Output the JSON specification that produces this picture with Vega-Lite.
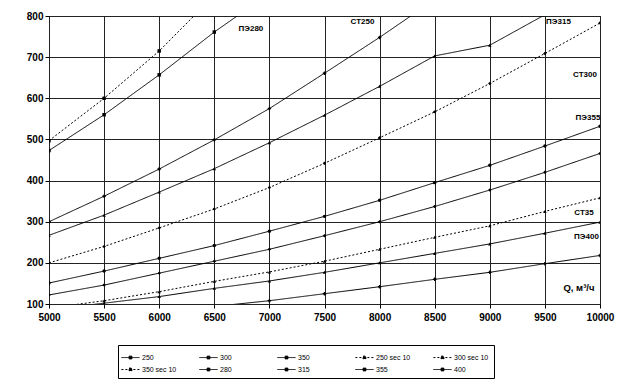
{
  "$schema": "https://vega.github.io/schema/vega-lite/v6.json",
  "width": 551,
  "height": 288,
  "autosize": {"type": "none"},
  "padding": {"left": 49, "top": 16, "right": 38, "bottom": 87},
  "background": "white",
  "config": {
    "font": "Liberation Sans",
    "view": {"stroke": "#000", "strokeWidth": 1},
    "axis": {
      "grid": true,
      "gridColor": "#222",
      "gridWidth": 1,
      "gridOpacity": 1,
      "domain": false,
      "tickColor": "#000",
      "tickSize": 4,
      "labelColor": "#000",
      "labelFontSize": 10,
      "labelFontWeight": "bold",
      "title": null,
      "labelFlush": false
    }
  },
  "resolve": {"scale": {"shape": "independent"}, "legend": {"shape": "independent", "strokeDash": "independent"}},
  "datasets": {
    "curves": [
      {"series": "250 sec 10", "Q": 5000, "P": 497},
      {"series": "250 sec 10", "Q": 5500, "P": 600},
      {"series": "250 sec 10", "Q": 6000, "P": 715},
      {"series": "250 sec 10", "Q": 6500, "P": 850},
      {"series": "280", "Q": 5000, "P": 473},
      {"series": "280", "Q": 5500, "P": 560},
      {"series": "280", "Q": 6000, "P": 657},
      {"series": "280", "Q": 6500, "P": 761},
      {"series": "280", "Q": 7000, "P": 855},
      {"series": "250", "Q": 5000, "P": 300},
      {"series": "250", "Q": 5500, "P": 362},
      {"series": "250", "Q": 6000, "P": 428},
      {"series": "250", "Q": 6500, "P": 499},
      {"series": "250", "Q": 7000, "P": 575},
      {"series": "250", "Q": 7500, "P": 661},
      {"series": "250", "Q": 8000, "P": 748},
      {"series": "250", "Q": 8500, "P": 840},
      {"series": "315", "Q": 5000, "P": 267},
      {"series": "315", "Q": 5500, "P": 316},
      {"series": "315", "Q": 6000, "P": 372},
      {"series": "315", "Q": 6500, "P": 429},
      {"series": "315", "Q": 7000, "P": 492},
      {"series": "315", "Q": 7500, "P": 559},
      {"series": "315", "Q": 8000, "P": 629},
      {"series": "315", "Q": 8500, "P": 703},
      {"series": "315", "Q": 9000, "P": 729},
      {"series": "315", "Q": 9500, "P": 803},
      {"series": "315", "Q": 10000, "P": 880},
      {"series": "300 sec 10", "Q": 5000, "P": 200},
      {"series": "300 sec 10", "Q": 5500, "P": 240},
      {"series": "300 sec 10", "Q": 6000, "P": 285},
      {"series": "300 sec 10", "Q": 6500, "P": 331},
      {"series": "300 sec 10", "Q": 7000, "P": 383},
      {"series": "300 sec 10", "Q": 7500, "P": 442},
      {"series": "300 sec 10", "Q": 8000, "P": 504},
      {"series": "300 sec 10", "Q": 8500, "P": 567},
      {"series": "300 sec 10", "Q": 9000, "P": 636},
      {"series": "300 sec 10", "Q": 9500, "P": 709},
      {"series": "300 sec 10", "Q": 10000, "P": 783},
      {"series": "355", "Q": 5000, "P": 151},
      {"series": "355", "Q": 5500, "P": 180},
      {"series": "355", "Q": 6000, "P": 211},
      {"series": "355", "Q": 6500, "P": 242},
      {"series": "355", "Q": 7000, "P": 277},
      {"series": "355", "Q": 7500, "P": 313},
      {"series": "355", "Q": 8000, "P": 352},
      {"series": "355", "Q": 8500, "P": 395},
      {"series": "355", "Q": 9000, "P": 437},
      {"series": "355", "Q": 9500, "P": 484},
      {"series": "355", "Q": 10000, "P": 532},
      {"series": "300", "Q": 5000, "P": 122},
      {"series": "300", "Q": 5500, "P": 146},
      {"series": "300", "Q": 6000, "P": 175},
      {"series": "300", "Q": 6500, "P": 204},
      {"series": "300", "Q": 7000, "P": 233},
      {"series": "300", "Q": 7500, "P": 266},
      {"series": "300", "Q": 8000, "P": 300},
      {"series": "300", "Q": 8500, "P": 337},
      {"series": "300", "Q": 9000, "P": 377},
      {"series": "300", "Q": 9500, "P": 420},
      {"series": "300", "Q": 10000, "P": 466},
      {"series": "350 sec 10", "Q": 5000, "P": 90},
      {"series": "350 sec 10", "Q": 5500, "P": 108},
      {"series": "350 sec 10", "Q": 6000, "P": 130},
      {"series": "350 sec 10", "Q": 6500, "P": 155},
      {"series": "350 sec 10", "Q": 7000, "P": 178},
      {"series": "350 sec 10", "Q": 7500, "P": 204},
      {"series": "350 sec 10", "Q": 8000, "P": 233},
      {"series": "350 sec 10", "Q": 8500, "P": 262},
      {"series": "350 sec 10", "Q": 9000, "P": 290},
      {"series": "350 sec 10", "Q": 9500, "P": 325},
      {"series": "350 sec 10", "Q": 10000, "P": 358},
      {"series": "350", "Q": 5000, "P": 86},
      {"series": "350", "Q": 5500, "P": 102},
      {"series": "350", "Q": 6000, "P": 118},
      {"series": "350", "Q": 6500, "P": 138},
      {"series": "350", "Q": 7000, "P": 156},
      {"series": "350", "Q": 7500, "P": 177},
      {"series": "350", "Q": 8000, "P": 200},
      {"series": "350", "Q": 8500, "P": 223},
      {"series": "350", "Q": 9000, "P": 246},
      {"series": "350", "Q": 9500, "P": 272},
      {"series": "350", "Q": 10000, "P": 299},
      {"series": "400", "Q": 6000, "P": 84},
      {"series": "400", "Q": 6500, "P": 94},
      {"series": "400", "Q": 7000, "P": 108},
      {"series": "400", "Q": 7500, "P": 125},
      {"series": "400", "Q": 8000, "P": 142},
      {"series": "400", "Q": 8500, "P": 160},
      {"series": "400", "Q": 9000, "P": 177},
      {"series": "400", "Q": 9500, "P": 198},
      {"series": "400", "Q": 10000, "P": 218}
    ],
    "labels": [
      {"text": "ПЭ280", "Q": 6832, "P": 768, "size": 8},
      {"text": "СТ250", "Q": 7845, "P": 786, "size": 8},
      {"text": "ПЭ315", "Q": 9623, "P": 785, "size": 8},
      {"text": "СТ300", "Q": 9864, "P": 656, "size": 8},
      {"text": "ПЭ355", "Q": 9891, "P": 551, "size": 8},
      {"text": "СТ35", "Q": 9855, "P": 320, "size": 8},
      {"text": "ПЭ400", "Q": 9877, "P": 264, "size": 8},
      {"text": "Q, м³/ч", "Q": 9809, "P": 140, "size": 9.5}
    ]
  },
  "layer": [
    {
      "data": {"name": "curves"},
      "mark": {"type": "line", "color": "#000", "strokeWidth": 1, "clip": true},
      "encoding": {
        "x": {"field": "Q", "type": "quantitative", "scale": {"domain": [5000, 10000], "nice": false, "zero": false},
          "axis": {"values": [5000, 5500, 6000, 6500, 7000, 7500, 8000, 8500, 9000, 9500, 10000], "format": "d", "labelPadding": 4}},
        "y": {"field": "P", "type": "quantitative", "scale": {"domain": [100, 800], "nice": false, "zero": false},
          "axis": {"values": [100, 200, 300, 400, 500, 600, 700, 800], "format": "d", "labelPadding": 2}},
        "strokeDash": {
          "field": "series", "type": "nominal",
          "scale": {
            "domain": ["250", "300", "350", "250 sec 10", "300 sec 10", "350 sec 10", "280", "315", "355", "400"],
            "range": [[1, 0], [1, 0], [1, 0], [2, 2], [2, 2], [2, 2], [1, 0], [1, 0], [1, 0], [1, 0]]
          },
          "legend": {
            "title": null,
            "orient": "none",
            "legendX": 69,
            "legendY": 329,
            "direction": "horizontal",
            "columns": 5,
            "gridAlign": "all",
            "columnPadding": 20,
            "rowPadding": 1,
            "padding": 5,
            "strokeColor": "#000",
            "fillColor": "#fff",
            "symbolType": "M-1.3,0H1.3M-0.2,-0.2H0.2V0.2H-0.2Z",
            "symbolSize": 196,
            "symbolStrokeColor": "#000",
            "symbolFillColor": "#000",
            "symbolStrokeWidth": 1,
            "labelFontSize": 7,
            "labelColor": "#000",
            "labelOffset": 4
          }
        }
      }
    },
    {
      "data": {"name": "curves"},
      "mark": {"type": "point", "filled": true, "color": "#000", "size": 12, "opacity": 1, "clip": true},
      "encoding": {
        "x": {"field": "Q", "type": "quantitative"},
        "y": {"field": "P", "type": "quantitative"},
        "shape": {
          "field": "series", "type": "nominal",
          "scale": {
            "domain": ["250", "300", "350", "250 sec 10", "300 sec 10", "350 sec 10", "280", "315", "355", "400"],
            "range": ["cross", "diamond", "triangle-up", "square", "diamond", "triangle-up", "square", "triangle-up", "circle", "cross"]
          },
          "legend": null
        }
      }
    },
    {
      "data": {"name": "labels"},
      "mark": {"type": "text", "fontWeight": "bold", "color": "#000", "baseline": "middle", "align": "center"},
      "encoding": {
        "x": {"field": "Q", "type": "quantitative"},
        "y": {"field": "P", "type": "quantitative"},
        "text": {"field": "text", "type": "nominal"},
        "size": {"field": "size", "type": "quantitative", "scale": null, "legend": null}
      }
    }
  ]
}
